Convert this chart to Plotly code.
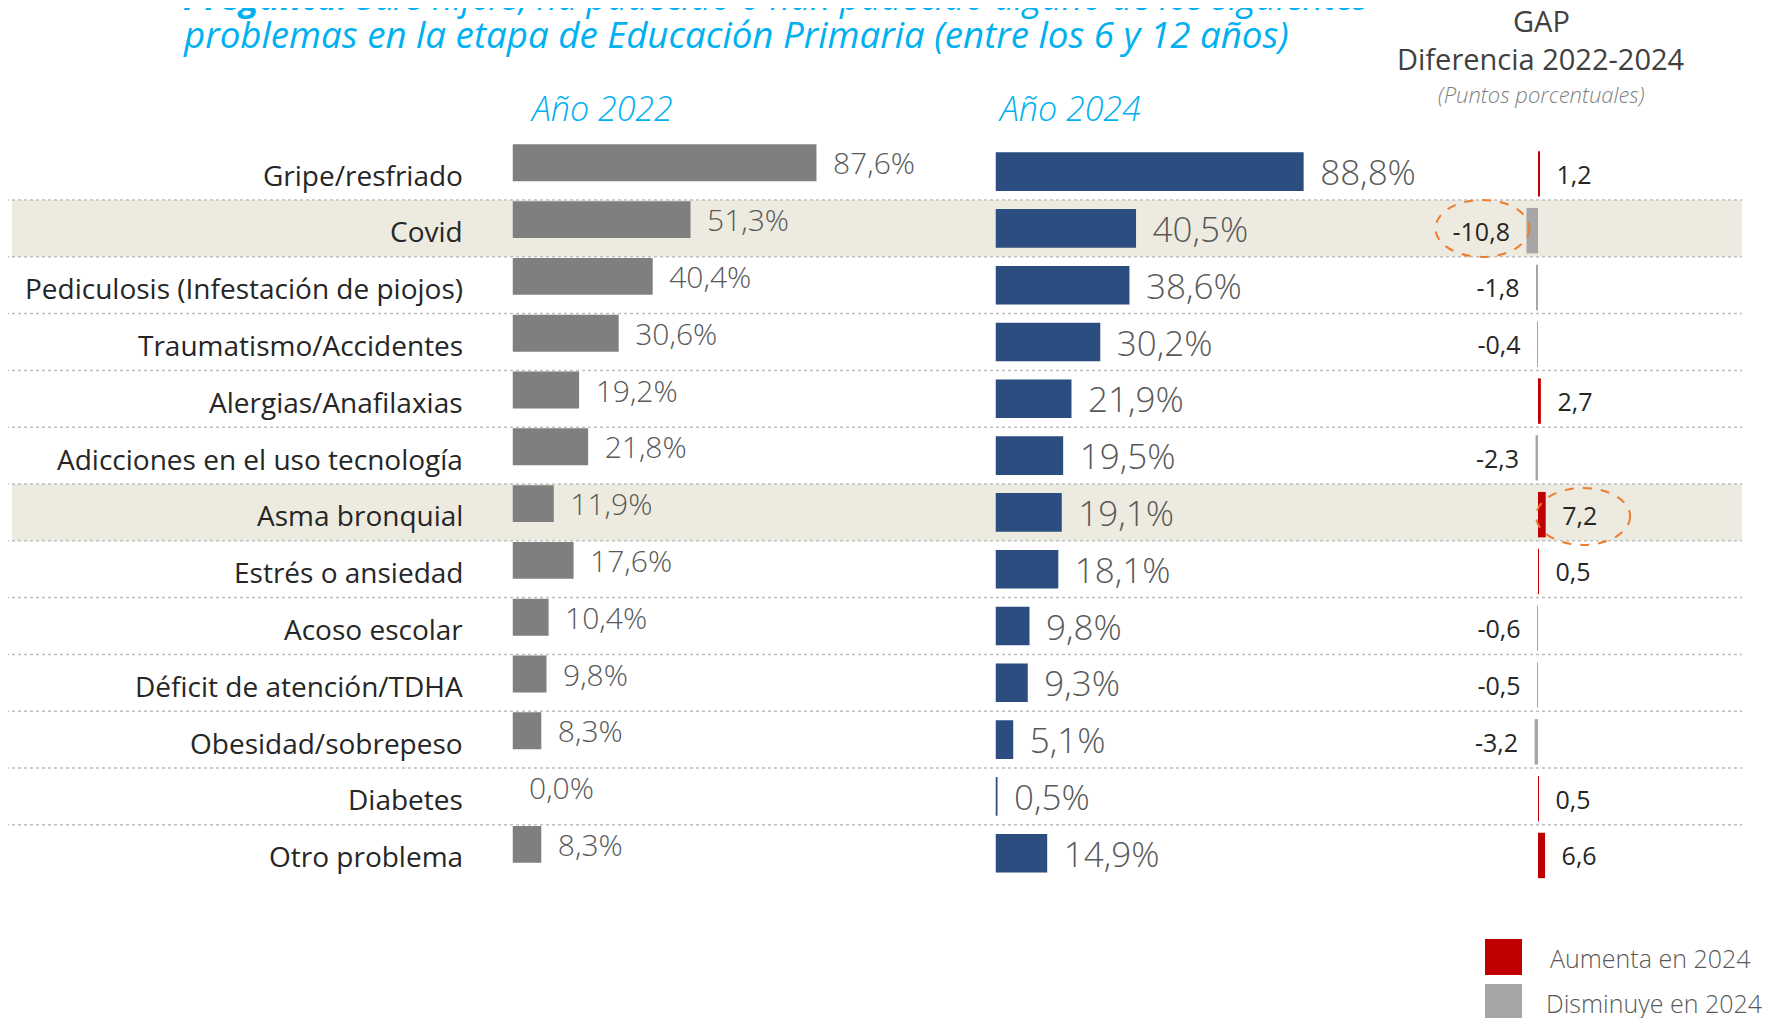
import plotly.graph_objects as go

# --- data --------------------------------------------------------------
CATEGORIAS = [
    "Gripe/resfriado",
    "Covid",
    "Pediculosis (Infestación de piojos)",
    "Traumatismo/Accidentes",
    "Alergias/Anafilaxias",
    "Adicciones en el uso tecnología",
    "Asma bronquial",
    "Estrés o ansiedad",
    "Acoso escolar",
    "Déficit de atención/TDHA",
    "Obesidad/sobrepeso",
    "Diabetes",
    "Otro problema",
]
ANIO_2022 = [87.6, 51.3, 40.4, 30.6, 19.2, 21.8, 11.9, 17.6, 10.4, 9.8, 8.3, 0.0, 8.3]
ANIO_2024 = [88.8, 40.5, 38.6, 30.2, 21.9, 19.5, 19.1, 18.1, 9.8, 9.3, 5.1, 0.5, 14.9]
GAP = [1.2, -10.8, -1.8, -0.4, 2.7, -2.3, 7.2, 0.5, -0.6, -0.5, -3.2, 0.5, 6.6]
DESTACADOS = ["Covid", "Asma bronquial"]
LEYENDA = ["Aumenta en 2024", "Disminuye en 2024"]

TITULO_1 = "<b>Pregunta:</b> Su/s hijo/s, ha padecido o han padecido alguno de los siguientes"
TITULO_2 = "problemas en la etapa de Educación Primaria (entre los 6 y 12 años)"

# --- look --------------------------------------------------------------
W, H = 1770, 1018          # browser window
OX = OY = 8                # default body margin of the html page
FW, FH = W, H              # figure size (the overflow is simply cut by the window)
FONT = "Open Sans"
AZUL_TIT = "#00B0F0"
GRIS_22 = "#7F7F7F"
AZUL_24 = "#2C4D7F"
ROJO = "#C00000"
GRIS_GAP = "#A6A6A6"
BANDA = "#EDEBE0"
PAD = '<span style="font-size:26px">\u00a0\u00a0</span>'

# row geometry (window pixels) -> category axis range
PASO, C0 = 56.8, 171.6
y_rango = [(FH - (C0 - OY)) / PASO, -(C0 - OY) / PASO]


def px(x):
    return (x - OX) / FW


def py(y):
    return 1 - (y - OY) / FH


fig = go.Figure()

fig.add_trace(go.Bar(
    x=ANIO_2022, y=CATEGORIAS, orientation="h",
    xaxis="x", yaxis="y",
    marker=dict(color=GRIS_22, line=dict(width=0)),
    width=0.65, offset=-0.48,
    texttemplate=PAD + "%{x:.1f}%", textposition="outside",
    outsidetextfont=dict(family=FONT, size=30, color="#595959", weight=300),
    constraintext="none", cliponaxis=False, hoverinfo="skip",
))
fig.add_trace(go.Bar(
    x=ANIO_2024, y=CATEGORIAS, orientation="h",
    xaxis="x2", yaxis="y",
    marker=dict(color=AZUL_24, line=dict(width=0)),
    width=0.68, offset=-0.34,
    texttemplate=PAD + "%{x:.1f}%", textposition="outside",
    outsidetextfont=dict(family=FONT, size=35, color="#595959", weight=300),
    constraintext="none", cliponaxis=False, hoverinfo="skip",
))

sube = [(c, g) for c, g in zip(CATEGORIAS, GAP) if g > 0]
baja = [(c, g) for c, g in zip(CATEGORIAS, GAP) if g <= 0]
fig.add_trace(go.Bar(
    x=[g for _, g in sube], y=[c for c, _ in sube], orientation="h",
    xaxis="x3", yaxis="y", name=LEYENDA[0],
    marker=dict(color=ROJO, line=dict(width=0)),
    width=0.8, offset=-0.36,
    texttemplate=PAD + "%{x:.1f}", textposition="outside",
    outsidetextfont=dict(family=FONT, size=25, color="#262626"),
    constraintext="none", cliponaxis=False, hoverinfo="skip",
))
fig.add_trace(go.Bar(
    x=[g for _, g in baja], y=[c for c, _ in baja], orientation="h",
    xaxis="x3", yaxis="y", name=LEYENDA[1],
    marker=dict(color=GRIS_GAP, line=dict(width=0)),
    width=0.8, offset=-0.36,
    texttemplate="%{x:.1f}" + PAD, textposition="outside",
    outsidetextfont=dict(family=FONT, size=25, color="#262626"),
    constraintext="none", cliponaxis=False, hoverinfo="skip",
))

shapes = []
# highlighted rows
for nombre in DESTACADOS:
    i = CATEGORIAS.index(nombre)
    shapes.append(dict(type="rect", xref="paper", yref="y", layer="below",
                       x0=px(12), x1=px(1742), y0=i - 0.5, y1=i + 0.5,
                       fillcolor=BANDA, line=dict(width=0)))
# dotted separators
for i in range(len(CATEGORIAS) - 1):
    shapes.append(dict(type="line", xref="paper", yref="y", layer="below",
                       x0=px(0), x1=px(1742), y0=i + 0.5, y1=i + 0.5,
                       line=dict(color="#BFBFBF", width=1.5, dash="dot")))
# orange dashed ellipses around the two highlighted gaps
for nombre, (dx0, dx1, dy0, dy1) in zip(DESTACADOS, [(-91, 3, -28.5, 28.5), (-9.6, 84.4, -32.5, 24.5)]):
    i = CATEGORIAS.index(nombre)
    shapes.append(dict(type="circle", xref="x3", yref="y",
                       xsizemode="pixel", ysizemode="pixel",
                       xanchor=GAP[i], yanchor=i,
                       x0=dx0, x1=dx1, y0=dy0, y1=dy1,
                       line=dict(color="#ED7D31", width=2, dash="dash")))
# legend squares
for color, (y0, y1) in zip([ROJO, GRIS_GAP], [(939, 975), (984, 1025)]):
    shapes.append(dict(type="rect", xref="paper", yref="paper",
                       x0=px(1485), x1=px(1522), y0=py(y1), y1=py(y0),
                       fillcolor=color, line=dict(width=0)))

annotations = []
for c in CATEGORIAS:
    annotations.append(dict(text=c, xref="paper", yref="y", x=px(465), y=c,
                            xanchor="right", yanchor="middle", yshift=-3,
                            showarrow=False,
                            font=dict(family=FONT, size=28, color="#262626")))


def texto(t, x, y, size, color, xanchor="center", italic=False, weight=400):
    annotations.append(dict(text=t, xref="paper", yref="paper", x=px(x), y=py(y),
                            xanchor=xanchor, yanchor="middle", showarrow=False,
                            font=dict(family=FONT, size=size, color=color,
                                      style="italic" if italic else "normal",
                                      weight=weight)))


# the first line of the question runs off the top of the page
texto(TITULO_1, 181, -4, 35.6, AZUL_TIT, xanchor="left", italic=True)
texto(TITULO_2, 181, 34, 36.7, AZUL_TIT, xanchor="left", italic=True)
texto("Año 2022", 601, 108, 34, AZUL_TIT, italic=True, weight=300)
texto("Año 2024", 1069, 108, 34, AZUL_TIT, italic=True, weight=300)
texto("GAP", 1541, 21, 29, "#404040")
texto("Diferencia 2022-2024", 1541, 59, 29, "#404040")
texto("(Puntos porcentuales)", 1541, 94, 22, "#7F7F7F", italic=True, weight=300)
texto(LEYENDA[0], 1548, 958, 25, "#595959", xanchor="left", weight=300)
texto(LEYENDA[1], 1544, 1003, 25, "#595959", xanchor="left", weight=300)

eje = dict(visible=False, fixedrange=True)
fig.update_layout(
    width=FW, height=FH,
    margin=dict(l=0, r=0, t=0, b=0),
    paper_bgcolor="white", plot_bgcolor="rgba(0,0,0,0)",
    separators=",.",
    showlegend=False,
    barmode="overlay",
    xaxis=dict(eje, domain=[px(512.5), px(512.5 + 347)], range=[0, 100], anchor="y"),
    xaxis2=dict(eje, domain=[px(995.5), px(995.5 + 347)], range=[0, 100], anchor="y"),
    xaxis3=dict(eje, domain=[px(1400), px(1700)], range=[-138 / 1.07, 162 / 1.07], anchor="y"),
    yaxis=dict(eje, type="category", categoryorder="array", categoryarray=CATEGORIAS,
               range=y_rango, domain=[0, 1]),
    shapes=shapes,
    annotations=annotations,
)

fig.write_html("out.html")
